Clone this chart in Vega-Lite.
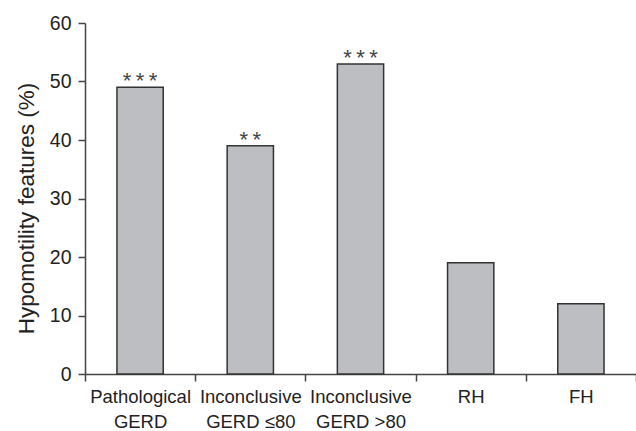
{
  "$schema": "https://vega.github.io/schema/vega-lite/v6.json",
  "autosize": {"type": "none"},
  "width": 551,
  "height": 351,
  "padding": {"left": 85, "top": 23, "right": 0, "bottom": 57},
  "background": "white",
  "config": {
    "view": {"stroke": null},
    "font": "Liberation Sans"
  },
  "data": {
    "values": [
      {"group": "Pathological|GERD", "value": 49, "sig": "*\u2009*\u2009*"},
      {"group": "Inconclusive|GERD ≤80", "value": 39, "sig": "*\u2009*"},
      {"group": "Inconclusive|GERD >80", "value": 53, "sig": "*\u2009*\u2009*"},
      {"group": "RH", "value": 19, "sig": ""},
      {"group": "FH", "value": 12, "sig": ""}
    ]
  },
  "encoding": {
    "x": {
      "field": "group",
      "type": "nominal",
      "sort": null,
      "scale": {"paddingInner": 0, "paddingOuter": 0},
      "axis": {
        "title": null,
        "labelAngle": 0,
        "labelExpr": "isValid(datum.value) ? split(datum.value, '|') : ''",
        "labelFont": "Liberation Sans",
        "labelFontSize": 18.5,
        "labelColor": "#222222",
        "labelLineHeight": 25,
        "labelPadding": 6,
        "tickBand": "extent",
        "tickSize": 7,
        "tickColor": "#444444",
        "tickWidth": 1.5,
        "domainColor": "#444444",
        "domainWidth": 1.5,
        "grid": false
      }
    },
    "y": {
      "field": "value",
      "type": "quantitative",
      "scale": {"domain": [0, 60]},
      "axis": {
        "title": "Hypomotility features (%)",
        "titleFont": "Liberation Sans",
        "titleFontSize": 22.5,
        "titleFontWeight": "normal",
        "titleColor": "#222222",
        "titleAnchor": "middle",
        "titleAlign": "center",
        "titleAngle": 270,
        "titleY": 185,
        "titleX": -52,
        "titleBaseline": "alphabetic",
        "values": [0, 10, 20, 30, 40, 50, 60],
        "labelFont": "Liberation Sans",
        "labelFontSize": 19.5,
        "labelColor": "#222222",
        "labelPadding": 7,
        "tickSize": 7,
        "tickColor": "#444444",
        "tickWidth": 1.5,
        "domainColor": "#444444",
        "domainWidth": 1.5,
        "grid": false
      }
    }
  },
  "layer": [
    {
      "mark": {"type": "bar", "width": {"band": 0.42}, "fill": "#bdbec2", "stroke": "#333333", "strokeWidth": 1.5}
    },
    {
      "mark": {"type": "text", "baseline": "alphabetic", "dy": 1, "fontSize": 22, "fill": "#444444", "font": "Liberation Sans"},
      "encoding": {"text": {"field": "sig"}}
    }
  ]
}
